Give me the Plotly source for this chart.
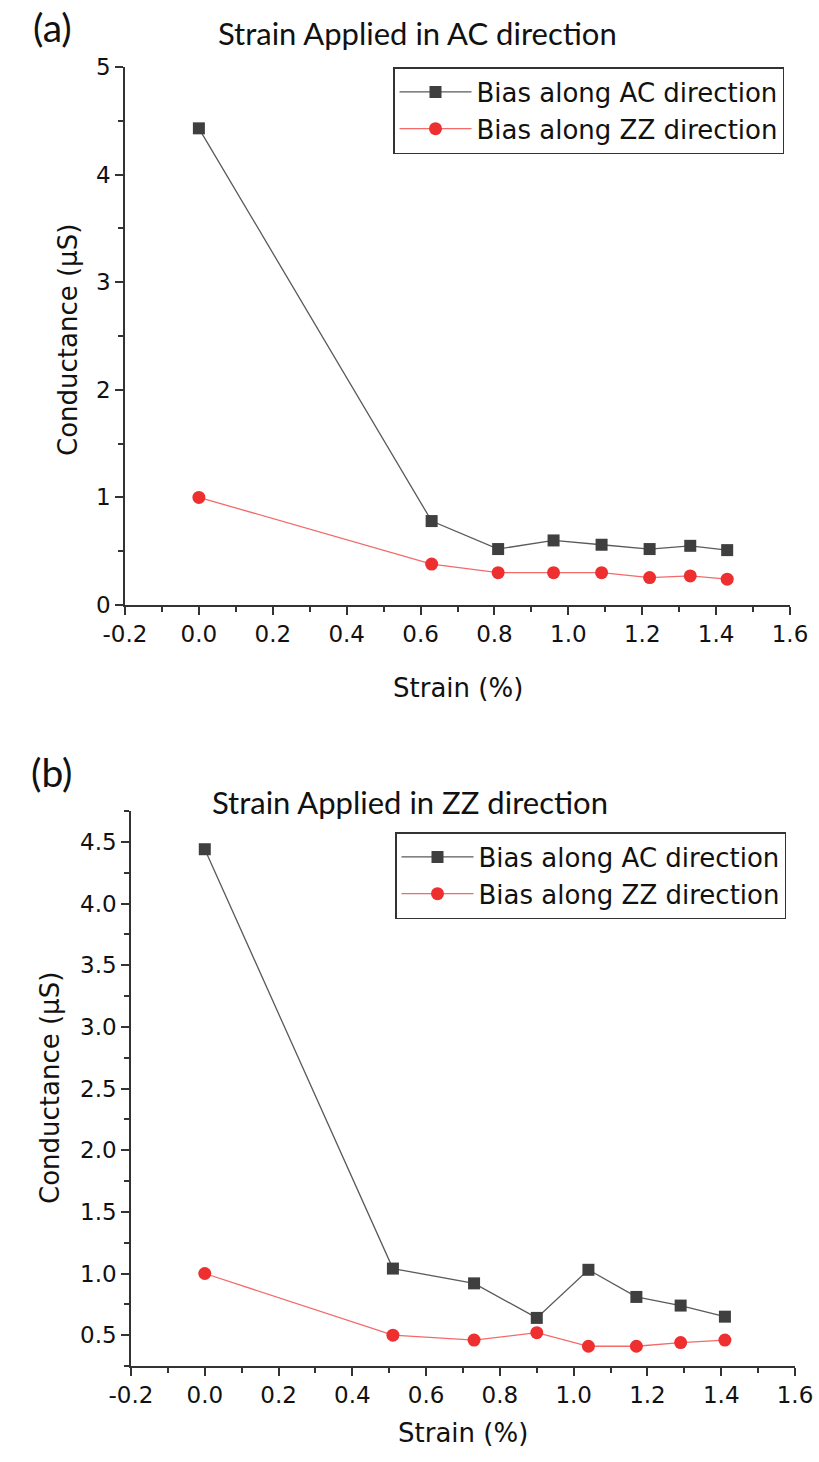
import plotly.graph_objects as go

# Panel (a): strain applied along the armchair (AC) direction
strain_a = [0.0, 0.63, 0.81, 0.96, 1.09, 1.22, 1.33, 1.43]
ac_bias_a = [4.43, 0.78, 0.52, 0.60, 0.56, 0.52, 0.55, 0.51]
zz_bias_a = [1.00, 0.38, 0.30, 0.30, 0.30, 0.255, 0.27, 0.24]

# Panel (b): strain applied along the zigzag (ZZ) direction
strain_b = [0.0, 0.51, 0.73, 0.90, 1.04, 1.17, 1.29, 1.41]
ac_bias_b = [4.44, 1.04, 0.92, 0.64, 1.03, 0.81, 0.74, 0.65]
zz_bias_b = [1.00, 0.50, 0.46, 0.52, 0.41, 0.41, 0.44, 0.46]

series_names = ["Bias along AC direction", "Bias along ZZ direction"]
panel_labels = ["(a)", "(b)"]
panel_titles = ["Strain Applied in AC direction", "Strain Applied in ZZ direction"]
x_title = "Strain (%)"
y_title = "Conductance (μS)"
x_ticks = [-0.2, 0.0, 0.2, 0.4, 0.6, 0.8, 1.0, 1.2, 1.4, 1.6]
y_ticks_a = [0, 1, 2, 3, 4, 5]
y_ticks_b = [0.5, 1.0, 1.5, 2.0, 2.5, 3.0, 3.5, 4.0, 4.5]

W, H = 819, 1462
DARK = "#3f3f3f"
DARK_LINE = "#5a5a5a"
RED = "#ee2f2f"
RED_LINE = "#f26a6a"
TICK_FONT = dict(family="DejaVu Sans", size=23, color="#111")
TITLE_FONT = dict(family="DejaVu Sans", size=26, color="#111")
LEGEND_FONT = dict(family="DejaVu Sans", size=26, color="#111")
HEAD_FONT = dict(family="Lato", size=31, color="#111")
LETTER_FONT = dict(family="Lato", size=39, color="#111")


def px_x(v):
    return v / W


def px_y(v):
    return 1 - v / H


fig = go.Figure()

for xs, ys_ac, ys_zz, xa, ya, lg in [
    (strain_a, ac_bias_a, zz_bias_a, "x", "y", "legend"),
    (strain_b, ac_bias_b, zz_bias_b, "x2", "y2", "legend2"),
]:
    fig.add_trace(go.Scatter(
        x=xs, y=ys_ac, name=series_names[0], mode="lines+markers",
        line=dict(color=DARK_LINE, width=1.3),
        marker=dict(symbol="square", size=12, color=DARK),
        xaxis=xa, yaxis=ya, legend=lg,
    ))
    fig.add_trace(go.Scatter(
        x=xs, y=ys_zz, name=series_names[1], mode="lines+markers",
        line=dict(color=RED_LINE, width=1.3),
        marker=dict(symbol="circle", size=13, color=RED),
        xaxis=xa, yaxis=ya, legend=lg,
    ))

axis_common = dict(
    showgrid=False, zeroline=False, showline=True, linecolor="#333",
    linewidth=1.5, ticks="outside", ticklen=8, tickwidth=1.5, tickcolor="#333",
    tickfont=TICK_FONT, automargin=False,
)
minor_common = dict(ticks="outside", ticklen=5, tickcolor="#333", tickwidth=1.5)
legend_common = dict(
    xanchor="left", yanchor="top",
    bgcolor="white", bordercolor="#333", borderwidth=1.5,
    font=LEGEND_FONT, tracegroupgap=0, itemwidth=72,
)

fig.update_layout(
    width=W, height=H,
    margin=dict(l=0, r=0, t=0, b=0, autoexpand=False),
    paper_bgcolor="white", plot_bgcolor="white",
    xaxis=dict(
        domain=[px_x(125), px_x(790)], anchor="y", range=[-0.2, 1.6],
        tickvals=x_ticks, ticktext=[f"{v:.1f}" for v in x_ticks],
        minor=dict(dtick=0.1, **minor_common),
        **axis_common,
    ),
    yaxis=dict(
        domain=[px_y(605), px_y(67)], anchor="x", range=[0, 5],
        tickvals=y_ticks_a, ticktext=[f"{v:d}" for v in y_ticks_a],
        minor=dict(dtick=0.5, **minor_common),
        **axis_common,
    ),
    xaxis2=dict(
        domain=[px_x(131), px_x(795)], anchor="y2", range=[-0.2, 1.6],
        tickvals=x_ticks, ticktext=[f"{v:.1f}" for v in x_ticks],
        minor=dict(dtick=0.1, **minor_common),
        **axis_common,
    ),
    yaxis2=dict(
        domain=[px_y(1366), px_y(811)], anchor="x2", range=[0.25, 4.75],
        tickvals=y_ticks_b, ticktext=[f"{v:.1f}" for v in y_ticks_b],
        minor=dict(tick0=0.25, dtick=0.5, **minor_common),
        **axis_common,
    ),
    legend=dict(x=px_x(393), y=px_y(67), **legend_common),
    legend2=dict(x=px_x(395), y=px_y(832), **legend_common),
)

annotations = [
    # panel letters
    dict(text=panel_labels[0], x=px_x(52), y=px_y(27), font=LETTER_FONT),
    dict(text=panel_labels[1], x=px_x(52), y=px_y(772), font=LETTER_FONT),
    # panel titles
    dict(text=panel_titles[0], x=px_x(418), y=px_y(33), font=HEAD_FONT),
    dict(text=panel_titles[1], x=px_x(410), y=px_y(802), font=HEAD_FONT),
    # axis titles
    dict(text=x_title, x=px_x(458), y=px_y(688), font=TITLE_FONT),
    dict(text=x_title, x=px_x(463), y=px_y(1433), font=TITLE_FONT),
    dict(text=y_title, x=px_x(68), y=px_y(340), textangle=-90, font=TITLE_FONT),
    dict(text=y_title, x=px_x(50), y=px_y(1088), textangle=-90, font=TITLE_FONT),
]
for a in annotations:
    a.update(xref="paper", yref="paper", showarrow=False, xanchor="center", yanchor="middle")
fig.update_layout(annotations=annotations)

fig.write_html("out.html")
